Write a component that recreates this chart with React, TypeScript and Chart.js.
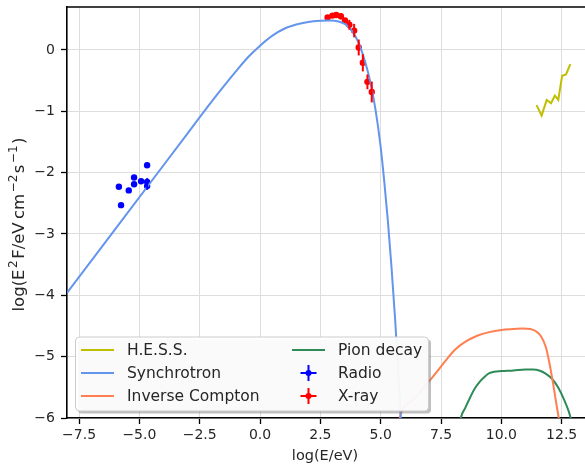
import React, { useEffect, useRef } from 'react';
import { Chart, registerables } from 'chart.js';
Chart.register(...registerables);

// ---- data ----
const xTicks = [-7.5, -5, -2.5, 0, 2.5, 5, 7.5, 10, 12.5];
const yTicks = [-6, -5, -4, -3, -2, -1, 0];

const syncX = [-8, -6, -4, -3, -2, -1.5, -1, -0.5, 0, 0.5, 1, 1.5, 2, 2.5, 2.9, 3.25, 3.53, 3.81, 4.08, 4.36, 4.57, 4.78, 4.99, 5.15, 5.3, 5.45, 5.6, 5.72, 5.83, 5.9];
const syncY = [-3.96, -2.92, -1.88, -1.36, -0.84, -0.59, -0.35, -0.12, 0.07, 0.23, 0.345, 0.415, 0.455, 0.474, 0.48, 0.465, 0.42, 0.31, 0.12, -0.2, -0.52, -0.96, -1.55, -2.15, -2.8, -3.55, -4.4, -5.2, -6.0, -6.5];

const icX = [5.72, 5.79, 6.3, 6.8, 7.3, 7.7, 8.1, 8.5, 9.0, 9.5, 10.0, 10.5, 10.9, 11.2, 11.45, 11.65, 11.85, 12.0, 12.15, 12.3, 12.4, 12.45];
const icY = [-6.3, -6.0, -5.72, -5.5, -5.26, -5.06, -4.88, -4.76, -4.66, -4.6, -4.565, -4.55, -4.54, -4.55, -4.59, -4.67, -4.85, -5.12, -5.45, -5.82, -6.05, -6.2];

const pionX = [8.25, 8.32, 8.5, 8.7, 8.9, 9.1, 9.3, 9.5, 9.7, 10.0, 10.5, 11.0, 11.3, 11.6, 11.85, 12.1, 12.35, 12.6, 12.8, 12.87, 12.93];
const pionY = [-6.2, -6.0, -5.84, -5.67, -5.52, -5.41, -5.33, -5.27, -5.245, -5.235, -5.225, -5.21, -5.21, -5.23, -5.28, -5.36, -5.5, -5.7, -5.9, -6.0, -6.1];

const hessX = [11.46, 11.67, 11.88, 12.06, 12.22, 12.36, 12.52, 12.68, 12.86];
const hessY = [-0.9, -1.07, -0.815, -0.87, -0.745, -0.815, -0.42, -0.4, -0.23];

const radioX = [-5.85, -5.76, -5.44, -5.22, -5.22, -4.93, -4.68, -4.68, -4.68];
const radioY = [-2.23, -2.53, -2.29, -2.08, -2.19, -2.14, -1.88, -2.15, -2.22];
const radioErr = [0.02, 0.02, 0.02, 0.02, 0.02, 0.02, 0.02, 0.06, 0.06];

const xrayX = [2.8, 3.0, 3.16, 3.35, 3.52, 3.7, 3.9, 4.09, 4.26, 4.45, 4.63];
const xrayY = [0.53, 0.56, 0.57, 0.55, 0.48, 0.41, 0.315, 0.04, -0.21, -0.52, -0.685];
const xrayErr = [0.02, 0.02, 0.02, 0.05, 0.04, 0.08, 0.11, 0.13, 0.14, 0.12, 0.17];

const legendLeft = ['H.E.S.S.', 'Synchrotron', 'Inverse Compton'];
const legendRight = ['Pion decay', 'Radio', 'X-ray'];
const xTitle = 'log(E/eV)';
// y title pieces: [text, isSuperscript]
const yTitleParts: [string, boolean][] = [['log(E', false], ['2', true], ['F/eV\u2009cm', false], ['\u22122', true], ['s', false], ['\u22121', true], [')', false]];

const C_HESS = '#bfbf00';
const C_SYNC = '#6495ED';
const C_IC = '#FF7F50';
const C_PION = '#2E8B57';
const C_RADIO = '#0000ff';
const C_XRAY = '#ff0000';
const C_TEXT = '#262626';

const FONT = "'DejaVu Sans', sans-serif";
const pts = (xs: number[], ys: number[]) => xs.map((x, i) => ({ x, y: ys[i] }));
const fmtMinus = (s: string) => s.replace('-', '\u2212');

export default function App() {
  const ref = useRef<HTMLCanvasElement>(null);
  useEffect(() => {
    document.body.style.margin = '0';
    const canvas = ref.current!;
    const errPlugin = {
      id: 'errbars',
      afterDatasetsDraw(chart: any) {
        const ctx = chart.ctx;
        const xs = chart.scales.x, ys = chart.scales.y;
        const a = chart.chartArea;
        ctx.save();
        ctx.beginPath();
        ctx.rect(a.left, a.top, a.right - a.left, a.bottom - a.top);
        ctx.clip();
        const draw = (X: number[], Y: number[], E: number[], col: string) => {
          ctx.strokeStyle = col;
          ctx.lineWidth = 2;
          X.forEach((x, i) => {
            const px = xs.getPixelForValue(x);
            ctx.beginPath();
            ctx.moveTo(px, ys.getPixelForValue(Y[i] - E[i]));
            ctx.lineTo(px, ys.getPixelForValue(Y[i] + E[i]));
            ctx.stroke();
          });
        };
        draw(radioX, radioY, radioErr, C_RADIO);
        draw(xrayX, xrayY, xrayErr, C_XRAY);
        ctx.restore();
      },
      afterDraw(chart: any) {
        const ctx = chart.ctx;
        const a = chart.chartArea;
        ctx.save();
        // top spine
        ctx.strokeStyle = '#000';
        ctx.lineWidth = 1.6;
        ctx.beginPath();
        ctx.moveTo(a.left - 0.8, a.top);
        ctx.lineTo(a.right, a.top);
        ctx.stroke();

        // axis titles
        ctx.fillStyle = C_TEXT;
        ctx.textBaseline = 'alphabetic';
        ctx.textAlign = 'center';
        ctx.font = `14.5px ${FONT}`;
        ctx.fillText(xTitle, (a.left + a.right) / 2 - 2, 460);
        // y title, rotated, with superscripts
        const mainF = `16.5px ${FONT}`, supF = `12px ${FONT}`;
        const gap = 1.5;
        let total = 0;
        yTitleParts.forEach(([t, sup]) => { ctx.font = sup ? supF : mainF; total += ctx.measureText(t).width + (sup ? gap * 2 : 0); });
        ctx.save();
        ctx.translate(24, (a.top + a.bottom) / 2 + 12);
        ctx.rotate(-Math.PI / 2);
        ctx.textAlign = 'left';
        let cx = -total / 2;
        yTitleParts.forEach(([t, sup]) => {
          ctx.font = sup ? supF : mainF;
          ctx.fillText(t, cx + (sup ? gap : 0), sup ? -7 : 0);
          cx += ctx.measureText(t).width + (sup ? gap * 2 : 0);
        });
        ctx.restore();

        // legend
        const bx = 75.5, by = 337, bw = 353, bh = 74, r = 4;
        const rr = (x: number, y: number) => {
          ctx.beginPath();
          ctx.moveTo(x + r, y);
          ctx.lineTo(x + bw - r, y);
          ctx.quadraticCurveTo(x + bw, y, x + bw, y + r);
          ctx.lineTo(x + bw, y + bh - r);
          ctx.quadraticCurveTo(x + bw, y + bh, x + bw - r, y + bh);
          ctx.lineTo(x + r, y + bh);
          ctx.quadraticCurveTo(x, y + bh, x, y + bh - r);
          ctx.lineTo(x, y + r);
          ctx.quadraticCurveTo(x, y, x + r, y);
          ctx.closePath();
        };
        rr(bx + 2.5, by + 2.5);
        ctx.fillStyle = 'rgba(128,128,128,0.5)';
        ctx.fill();
        rr(bx, by);
        ctx.fillStyle = 'rgba(255,255,255,0.92)';
        ctx.fill();
        ctx.strokeStyle = '#cccccc';
        ctx.lineWidth = 1;
        ctx.stroke();
        const rows = [350, 373, 396];
        ctx.font = `15.5px ${FONT}`;
        ctx.fillStyle = C_TEXT;
        ctx.textBaseline = 'middle';
        ctx.textAlign = 'left';
        const lineCols = [C_HESS, C_SYNC, C_IC];
        rows.forEach((y, i) => {
          ctx.strokeStyle = lineCols[i];
          ctx.lineWidth = 2;
          ctx.beginPath();
          ctx.moveTo(81, y);
          ctx.lineTo(114, y);
          ctx.stroke();
          ctx.fillText(legendLeft[i], 127, y + 1);
        });
        ctx.strokeStyle = C_PION;
        ctx.beginPath();
        ctx.moveTo(292, rows[0]);
        ctx.lineTo(325, rows[0]);
        ctx.stroke();
        [C_RADIO, C_XRAY].forEach((col, k) => {
          const y = rows[k + 1];
          const mx = 308.5;
          ctx.strokeStyle = col;
          ctx.fillStyle = col;
          ctx.lineWidth = 2;
          ctx.beginPath();
          ctx.moveTo(mx - 8, y); ctx.lineTo(mx + 8, y);
          ctx.moveTo(mx, y - 8); ctx.lineTo(mx, y + 8);
          ctx.stroke();
          ctx.beginPath();
          ctx.arc(mx, y, 3, 0, Math.PI * 2);
          ctx.fill();
        });
        ctx.fillStyle = C_TEXT;
        legendRight.forEach((t, i) => ctx.fillText(t, 338, rows[i] + 1));
        ctx.restore();
      },
    };

    const lineDs = (label: string, X: number[], Y: number[], col: string, smooth: boolean) => ({
      label, data: pts(X, Y), showLine: true, borderColor: col, backgroundColor: col,
      borderWidth: 2, pointRadius: 0, pointHoverRadius: 0, fill: false,
      cubicInterpolationMode: smooth ? 'monotone' : 'default', tension: 0,
    });
    const ptDs = (label: string, X: number[], Y: number[], col: string) => ({
      label, data: pts(X, Y), showLine: false, borderColor: col, backgroundColor: col,
      pointRadius: 3.2, pointBorderWidth: 0, pointHoverRadius: 3.2,
    });

    const chart = new Chart(canvas, {
      type: 'scatter',
      data: {
        datasets: [
          lineDs('H.E.S.S.', hessX, hessY, C_HESS, false),
          lineDs('Synchrotron', syncX, syncY, C_SYNC, true),
          lineDs('Inverse Compton', icX, icY, C_IC, true),
          lineDs('Pion decay', pionX, pionY, C_PION, true),
          ptDs('Radio', radioX, radioY, C_RADIO),
          ptDs('X-ray', xrayX, xrayY, C_XRAY),
        ] as any,
      },
      options: {
        responsive: false,
        animation: false,
        events: [],
        layout: { padding: { left: 0, top: 7, right: 13, bottom: 0 } },
        plugins: { legend: { display: false }, tooltip: { enabled: false } },
        scales: {
          x: {
            type: 'linear', min: -8, max: 13.55,
            afterBuildTicks: (s: any) => { s.ticks = xTicks.map(v => ({ value: v })); },
            afterFit: (s: any) => { s.height = 50; s.paddingLeft = 0; s.paddingRight = 0; },
            grid: { color: '#dddddd', lineWidth: 1, drawTicks: true, tickLength: 6, tickColor: '#000', tickWidth: 1.3 },
            border: { display: true, color: '#000', width: 1.6 },
            ticks: {
              autoSkip: false, maxRotation: 0, padding: 3, color: C_TEXT,
              font: { family: FONT, size: 14 },
              callback: (v: any) => fmtMinus(Number(v).toFixed(1)),
            },
          },
          y: {
            type: 'linear', min: -6, max: 0.7,
            afterBuildTicks: (s: any) => { s.ticks = yTicks.map(v => ({ value: v })); },
            afterFit: (s: any) => { s.width = 67; s.paddingTop = 0; s.paddingBottom = 0; },
            grid: { color: '#dddddd', lineWidth: 1, drawTicks: true, tickLength: 6, tickColor: '#000', tickWidth: 1.3 },
            border: { display: true, color: '#000', width: 1.6 },
            ticks: {
              autoSkip: false, padding: 6, color: C_TEXT,
              font: { family: FONT, size: 14 },
              callback: (v: any) => fmtMinus(String(v)),
            },
          },
        },
      } as any,
      plugins: [errPlugin],
    });
    return () => chart.destroy();
  }, []);
  return (
    <div style={{ width: 585, height: 468, overflow: 'hidden', position: 'relative', background: '#fff' }}>
      <canvas ref={ref} width={600} height={468} style={{ width: 600, height: 468, display: 'block' }} />
    </div>
  );
}
